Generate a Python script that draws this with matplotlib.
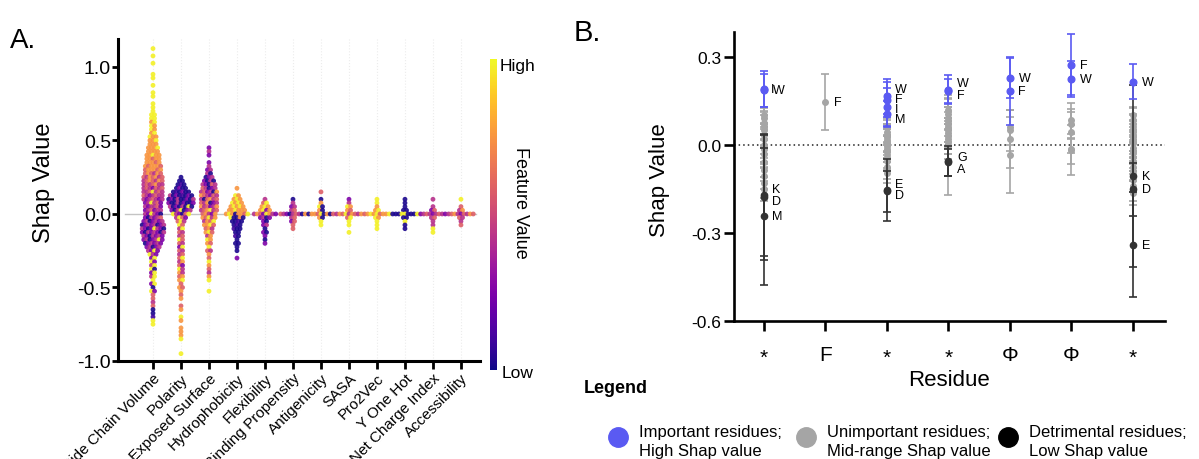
import numpy as np
import matplotlib.pyplot as plt
from matplotlib.cm import ScalarMappable
from matplotlib.colors import Normalize

plt.rcParams['font.family'] = 'Liberation Sans'
plt.rcParams['axes.unicode_minus'] = False

# ---------------- panel A : SHAP beeswarm ----------------
features = ['Side Chain Volume', 'Polarity', 'Exposed Surface', 'Hydrophobicity',
            'Flexibility', 'Binding Propensity', 'Antigenicity', 'SASA', 'Pro2Vec',
            'Y One Hot', 'Net Charge Index', 'Accessibility']
row_step = 0.025
# shap value of the first (top) row of each swarm
swarm_top = [1.125, 0.25, 0.45, 0.175, 0.1, 0.1, 0.15, 0.1, 0.1, 0.1, 0.1, 0.1]
# one word per row going down, one letter per point (feature value low->high:
# b n v m p o y), '.' = empty row
swarm_rows = [
    # Side Chain Volume
    "y . y . y . . y y . y . y y . y y y yy yy oy yo yo oy yoo ooy ooo oooy oooo "
    "ooyoo oopoo ooopo opooop pooopo popmop pmopomp mpopmop mpmpomm mpmvpmp "
    "mmpympm pmvmpmm mvmpmvm vmympv mvmmpv vmpvmm mvymvb vbmvmp vmbvmvm "
    "bvmvmbvm mvbvymvb vbmvmvbm mvbmvmv vmbvmyv bvmvmv vmbvm mvyv ymv vy yv my "
    "yb vy my y vy b yv p p m p b b n y y",
    # Polarity
    "b bb bnb bvbb bnbvbb mbvbnbvb bvbmbbvbm vbbmbvbbv mbvbmbyb vbmybvm ymvbpy "
    "mypv pym yp my pm mp yp pm vy pm mp py mo pv ym om po oy p op o p o . p o "
    ". y o . o o o y . . . y",
    # Exposed Surface
    "v m v . v m vm mb bvm vbmb mvbpm pmbvm mpvmbo opmvpm mbpomp pmobvm ompvmo "
    "mpoymp pomvo opymo mopy ooyp pom oyp mo yo op y pm o p y o p m o y . . y",
    # Hydrophobicity
    "o . yo oyo yoyo oyoyo ooyooo oyoboopy ybbob bbnb bnb nbb bb nb b bb b b . v",
    # Flexibility
    "m py oyo oyvo mopvyomv vmbv vb vm b vb v b v",
    # Binding Propensity
    "b m vm mp pmvbmpmbo mp vp p p",
    # Antigenicity
    "p . b o yb ob boopybobp ob y y",
    # SASA
    "v m yo op mopymopmo py y y . y",
    # Pro2Vec
    "y y o oy poyoypooy yo y y y",
    # Y One Hot
    "b b b bb bbbyybbby bb y b b",
    # Net Charge Index
    "m . m vp vmpmvmpmv mp m m y y",
    # Accessibility
    "y . p mo mpomvpmop pm m p",
]
code_value = {'b': 0.02, 'n': 0.1, 'v': 0.25, 'm': 0.42, 'p': 0.58, 'o': 0.75, 'y': 0.98}

# ---------------- panel B : per-residue SHAP ----------------
residues = ['*', 'F', '*', '*', 'Φ', 'Φ', '*']

# important residues (high shap)
hi_pos = [0, 0, 2, 2, 2, 2, 3, 3, 4, 4, 5, 5, 6]
hi_lab = ['I', 'W', 'W', 'F', 'I', 'M', 'W', 'F', 'W', 'F', 'F', 'W', 'W']
hi_val = [0.19, 0.185, 0.165, 0.154, 0.128, 0.105, 0.188, 0.183, 0.228, 0.182, 0.273, 0.224, 0.215]
hi_err = [0.06, 0.055, 0.06, 0.06, 0.065, 0.045, 0.05, 0.04, 0.068, 0.116, 0.104, 0.06, 0.06]

# detrimental residues (low shap)
lo_pos = [0, 0, 0, 2, 2, 3, 3, 6, 6, 6]
lo_lab = ['K', 'D', 'M', 'E', 'D', 'G', 'A', 'K', 'D', 'E']
lo_val = [-0.172, -0.178, -0.244, -0.155, -0.158, -0.055, -0.06, -0.107, -0.152, -0.34]
lo_err = [0.205, 0.215, 0.232, 0.105, 0.07, 0.05, 0.045, 0.31, 0.09, 0.178]

# unimportant residues (mid-range shap)
mid_pos = ([0] * 15 + [1] + [2] * 13 + [3] * 12 + [4] * 4 + [5] * 5 + [6] * 17)
mid_val = [0.10, 0.09, 0.075, 0.065, 0.05, 0.035, 0.02, 0.0, -0.015, -0.03, -0.06, -0.085, -0.105, -0.13, -0.15,
           0.147,
           0.06, 0.045, 0.035, 0.025, 0.015, 0.005, -0.005, -0.015, -0.025, -0.04, -0.055, -0.075, -0.095,
           0.12, 0.105, 0.09, 0.08, 0.07, 0.06, 0.05, 0.04, 0.03, 0.02, 0.01, 0.0,
           0.06, 0.049, 0.02, -0.034,
           0.083, 0.071, 0.043, -0.014, -0.019,
           0.1, 0.085, 0.07, 0.055, 0.045, 0.03, 0.02, 0.005, -0.01, -0.025, -0.04, -0.06, -0.075, -0.09, -0.12, -0.14, -0.165]
mid_err = [0.03, 0.035, 0.04, 0.045, 0.05, 0.04, 0.05, 0.06, 0.05, 0.045, 0.05, 0.04, 0.045, 0.05, 0.04,
           0.095,
           0.03, 0.04, 0.035, 0.045, 0.04, 0.05, 0.04, 0.045, 0.035, 0.04, 0.03, 0.04, 0.035,
           0.04, 0.05, 0.04, 0.05, 0.06, 0.05, 0.04, 0.05, 0.06, 0.05, 0.06, 0.17,
           0.06, 0.07, 0.1, 0.13,
           0.06, 0.05, 0.07, 0.05, 0.085,
           0.03, 0.04, 0.035, 0.045, 0.04, 0.05, 0.04, 0.045, 0.035, 0.04, 0.05, 0.04, 0.045, 0.035, 0.04, 0.05, 0.04]
mid_lab = {15: 'F'}

# vertical nudges of the residue letters (shap units) so they do not collide
hi_dy = [0, 0, 0.025, 0.002, -0.006, -0.017, 0.022, -0.015, 0, 0, 0, 0, 0]
lo_dy = [0.02, -0.014, 0, 0.02, -0.014, 0.013, -0.022, 0, 0, 0]
hi_dx = [-0.02, 0.02, 0, 0, 0, 0, 0, 0, 0, 0, 0, 0, 0]

BLUE, GREY, DARK = '#5a5af2', '#a5a5a5', '#333333'

fig = plt.figure(figsize=(11.99, 4.6), dpi=100)
W, H = 1199, 460


def px_axes(l, t, r, b):
    return fig.add_axes([l / W, 1 - b / H, (r - l) / W, (b - t) / H])


# ---------- A ----------
axA = px_axes(118, 40, 480, 362)
norm = Normalize(0, 1)
for i, rows in enumerate(swarm_rows):
    xs, ys, cs = [], [], []
    for k, row in enumerate(rows.split()):
        row = row.strip('.')
        n = len(row)
        for j, ch in enumerate(row):
            xs.append(i + (j - (n - 1) / 2) * 0.11)
            ys.append(swarm_top[i] - k * row_step)
            cs.append(code_value[ch])
    axA.scatter(xs, ys, c=cs, cmap='plasma', norm=norm, s=12, linewidths=0, alpha=0.9, zorder=3)

axA.axhline(0, xmin=0.02, xmax=0.99, color='#c4c4c4', lw=1, zorder=1)
axA.set_xlim(-1.25, 11.68)
axA.set_ylim(-1.0, 1.19)
axA.set_xticks(range(len(features)))
axA.set_xticklabels(features, rotation=45, ha='right', rotation_mode='anchor', fontsize=11)
axA.set_yticks([-1.0, -0.5, 0.0, 0.5, 1.0])
axA.set_yticklabels(['-1.0', '-0.5', '0.0', '0.5', '1.0'], fontsize=14)
axA.grid(axis='x', color='#ececec', ls=':', lw=0.8, zorder=0)
axA.set_axisbelow(True)
for s in ['top', 'right']:
    axA.spines[s].set_visible(False)
for s in ['left', 'bottom']:
    axA.spines[s].set_linewidth(2.2)
axA.tick_params(axis='y', length=4, width=2, pad=1)
axA.tick_params(axis='x', length=6, width=2, pad=1)
axA.set_ylabel('Shap Value', fontsize=17)
axA.yaxis.set_label_coords(-0.175, 0.556)

cax = px_axes(490, 60, 497, 371)
cb = fig.colorbar(ScalarMappable(norm=norm, cmap='plasma'), cax=cax)
cb.outline.set_visible(False)
cb.set_ticks([])
fig.text(500 / W, 1 - 67 / H, 'High', fontsize=12.5, va='center', ha='left')
fig.text(502 / W, 1 - 374 / H, 'Low', fontsize=12.5, va='center', ha='left')
fig.text(521 / W, 1 - 203 / H, 'Feature Value', fontsize=13, rotation=270,
         va='center', ha='center')

fig.text(10 / W, 1 - 48 / H, 'A.', fontsize=20, va='baseline')
fig.text(574 / W, 1 - 41 / H, 'B.', fontsize=21, va='baseline')

# ---------- B ----------
axB = px_axes(734, 33, 1165, 322)
xoff = 0.14
eb = dict(fmt='o', capsize=3, elinewidth=1.2, capthick=1.2)
axB.errorbar(mid_pos, mid_val, yerr=mid_err, color=GREY, ms=4, zorder=2, **eb)
axB.errorbar(lo_pos, lo_val, yerr=lo_err, color=DARK, ms=4.5, zorder=3, **eb)
axB.errorbar(hi_pos, hi_val, yerr=hi_err, color=BLUE, ms=4.8, zorder=4, **eb)
for p, lab, v, d, dx in zip(hi_pos, hi_lab, hi_val, hi_dy, hi_dx):
    axB.text(p + xoff + dx, v + d, lab, fontsize=9, va='center', ha='left')
for p, lab, v, d in zip(lo_pos, lo_lab, lo_val, lo_dy):
    axB.text(p + xoff, v + d, lab, fontsize=9, va='center', ha='left')
for idx, lab in mid_lab.items():
    axB.text(mid_pos[idx] + xoff, mid_val[idx], lab, fontsize=9, va='center', ha='left')

axB.axhline(0, color='#222222', ls=(0, (1, 2)), lw=1.1, zorder=1)
axB.set_xlim(-0.48, 6.52)
axB.set_ylim(-0.6, 0.384)
axB.set_xticks(range(len(residues)))
axB.set_xticklabels(residues, fontsize=15)
for t in axB.get_xticklabels():
    if t.get_text() == '*':
        t.set_y(-0.012)
axB.set_yticks([-0.6, -0.3, 0.0, 0.3])
axB.set_yticklabels(['-0.6', '-0.3', '0.0', '0.3'], fontsize=12.5)
for s in ['top', 'right']:
    axB.spines[s].set_visible(False)
for s in ['left', 'bottom']:
    axB.spines[s].set_linewidth(1.9)
axB.tick_params(axis='y', length=7, width=1.9, pad=2)
axB.tick_params(axis='x', length=7, width=1.9, pad=10)
axB.set_ylabel('Shap Value', fontsize=16)
axB.yaxis.set_label_coords(-0.148, 0.49)
axB.set_xlabel('Residue', fontsize=16)
axB.xaxis.set_label_coords(0.5, -0.165)

# ---------- legend ----------
fig.text(584 / W, 1 - 389 / H, 'Legend', fontsize=13, fontweight='bold', va='center')
leg_x = [618, 806, 1008]
leg_c = [BLUE, GREY, '#000000']
leg_t = ['Important residues;\nHigh Shap value',
         'Unimportant residues;\nMid-range Shap value',
         'Detrimental residues;\nLow Shap value']
for x, c, t in zip(leg_x, leg_c, leg_t):
    fig.add_artist(plt.Line2D([x / W], [1 - 438 / H], marker='o', ms=14, color=c, lw=0))
    fig.text((x + 21) / W, 1 - 442 / H, t, fontsize=12, va='center', ha='left',
             linespacing=1.4)

fig.savefig('out.png', dpi=100)
